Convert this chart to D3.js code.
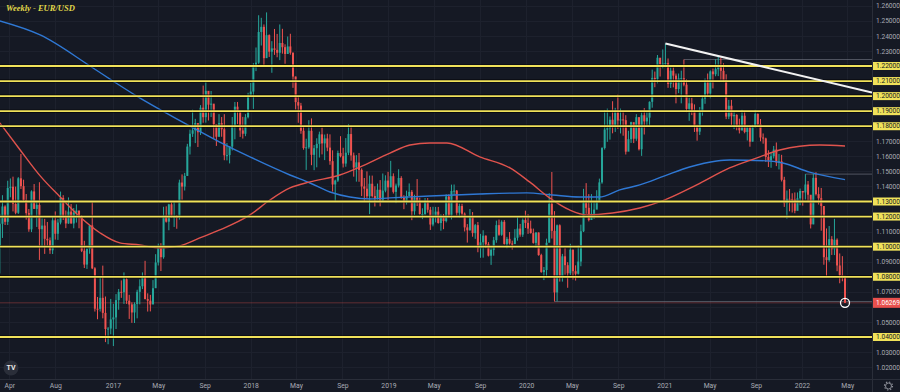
<!DOCTYPE html>
<html><head><meta charset="utf-8">
<script src="https://cdn.jsdelivr.net/npm/d3@7"></script>
<style>html,body{margin:0;padding:0;background:#151924;overflow:hidden}</style>
</head><body><svg id="c" width="900" height="392"></svg>
<script>
const chartTitle = "Weekly - EUR/USD";
const firstOpen = 1.0935;
const lastPrice = 1.06269;

// weekly candles: [high, low, close]; open = previous close
const start2016 = "2016-02-29";
const hlc2016 = [[1.1018,1.0825,1.1004],[1.1218,1.0822,1.1152],[1.1342,1.1058,1.1267],[1.1275,1.1144,1.1165],[1.1438,1.1144,1.1390],[1.1453,1.1328,1.1398],[1.1465,1.1234,1.1284],[1.1399,1.1215,1.1225],[1.1462,1.1217,1.1454],[1.1616,1.1383,1.1402],[1.1445,1.1300,1.1310],[1.1350,1.1180,1.1223],[1.1250,1.1099,1.1115],[1.1374,1.1097,1.1367],[1.1416,1.1250,1.1251],[1.1300,1.1131,1.1277],[1.1428,1.0912,1.1116],[1.1188,1.0999,1.1140],[1.1185,1.0952,1.1052],[1.1164,1.1007,1.1042],[1.1061,1.0952,1.0976],[1.1198,1.0951,1.1175],[1.1234,1.1047,1.1086],[1.1185,1.1045,1.1160],[1.1366,1.1148,1.1324],[1.1342,1.1177,1.1199],[1.1240,1.1123,1.1154],[1.1327,1.1152,1.1233],[1.1283,1.1153,1.1154],[1.1257,1.1122,1.1226],[1.1281,1.1160,1.1240],[1.1238,1.1122,1.1201],[1.1209,1.0964,1.0973],[1.1039,1.0858,1.0881],[1.0990,1.0852,1.0985],[1.1142,1.0953,1.1141],[1.1300,1.0851,1.0856],[1.0864,1.0569,1.0588],[1.0666,1.0518,1.0587],[1.0797,1.0569,1.0660],[1.0874,1.0524,1.0560],[1.0669,1.0366,1.0453],[1.0466,1.0352,1.0456],[1.0653,1.0418,1.0517]];
const start2017 = "2017-01-02";
const hlc2017 = [[1.0620,1.0340,1.0530],[1.0685,1.0453,1.0645],[1.0719,1.0581,1.0700],[1.0776,1.0660,1.0697],[1.0829,1.0620,1.0784],[1.0790,1.0620,1.0641],[1.0680,1.0520,1.0616],[1.0630,1.0494,1.0563],[1.0630,1.0493,1.0619],[1.0714,1.0524,1.0700],[1.0783,1.0617,1.0737],[1.0829,1.0718,1.0798],[1.0906,1.0650,1.0652],[1.0690,1.0569,1.0641],[1.0680,1.0570,1.0616],[1.0778,1.0656,1.0724],[1.0950,1.0820,1.0895],[1.1020,1.0875,1.0998],[1.1023,1.0838,1.0930],[1.1265,1.0920,1.1208],[1.1268,1.1160,1.1166],[1.1285,1.1109,1.1281],[1.1296,1.1193,1.1196],[1.1296,1.1131,1.1197],[1.1210,1.1119,1.1196],[1.1445,1.1180,1.1426],[1.1480,1.1312,1.1399],[1.1490,1.1373,1.1470],[1.1683,1.1470,1.1665],[1.1777,1.1612,1.1750],[1.1910,1.1729,1.1773],[1.1849,1.1688,1.1821],[1.1790,1.1662,1.1760],[1.1940,1.1742,1.1923],[1.2070,1.1823,1.1860],[1.2092,1.1824,1.2035],[1.2030,1.1838,1.1943],[1.2034,1.1861,1.1950],[1.1940,1.1717,1.1813],[1.1788,1.1669,1.1730],[1.1880,1.1730,1.1821],[1.1861,1.1730,1.1780],[1.1880,1.1574,1.1607],[1.1688,1.1573,1.1608],[1.1668,1.1553,1.1665],[1.1861,1.1639,1.1795],[1.1961,1.1713,1.1930],[1.1961,1.1814,1.1895],[1.1880,1.1729,1.1772],[1.1862,1.1718,1.1750],[1.1880,1.1734,1.1860],[1.2022,1.1852,1.2005]];
const start2018 = "2018-01-01";
const hlc2018 = [[1.2088,1.1998,1.2030],[1.2219,1.1915,1.2200],[1.2323,1.2166,1.2222],[1.2537,1.2214,1.2426],[1.2520,1.2336,1.2460],[1.2476,1.2206,1.2252],[1.2556,1.2277,1.2405],[1.2410,1.2260,1.2295],[1.2365,1.2155,1.2317],[1.2446,1.2274,1.2307],[1.2413,1.2258,1.2288],[1.2476,1.2239,1.2353],[1.2447,1.2282,1.2325],[1.2344,1.2215,1.2280],[1.2396,1.2280,1.2330],[1.2414,1.2275,1.2288],[1.2290,1.2055,1.2130],[1.2130,1.1911,1.1960],[1.1996,1.1823,1.1937],[1.1955,1.1750,1.1770],[1.1800,1.1644,1.1655],[1.1717,1.1510,1.1660],[1.1840,1.1650,1.1770],[1.1852,1.1541,1.1610],[1.1675,1.1508,1.1654],[1.1720,1.1527,1.1683],[1.1764,1.1592,1.1746],[1.1791,1.1613,1.1686],[1.1745,1.1575,1.1719],[1.1750,1.1634,1.1658],[1.1746,1.1544,1.1568],[1.1640,1.1366,1.1413],[1.1445,1.1301,1.1439],[1.1638,1.1430,1.1622],[1.1734,1.1593,1.1601],[1.1657,1.1526,1.1552],[1.1721,1.1531,1.1624],[1.1815,1.1608,1.1748],[1.1803,1.1571,1.1606],[1.1625,1.1465,1.1525],[1.1608,1.1432,1.1560],[1.1622,1.1431,1.1510],[1.1520,1.1336,1.1400],[1.1456,1.1302,1.1385],[1.1500,1.1315,1.1335],[1.1472,1.1216,1.1418],[1.1472,1.1327,1.1336],[1.1401,1.1267,1.1317],[1.1419,1.1312,1.1378],[1.1442,1.1268,1.1306],[1.1486,1.1302,1.1372],[1.1474,1.1361,1.1439],[1.1497,1.1309,1.1394]];
const start2019 = "2019-01-07";
const hlc2019 = [[1.1570,1.1395,1.1468],[1.1487,1.1353,1.1364],[1.1419,1.1289,1.1406],[1.1514,1.1393,1.1456],[1.1468,1.1318,1.1325],[1.1342,1.1249,1.1296],[1.1372,1.1280,1.1336],[1.1420,1.1350,1.1364],[1.1376,1.1176,1.1235],[1.1345,1.1211,1.1325],[1.1449,1.1270,1.1300],[1.1325,1.1212,1.1217],[1.1255,1.1183,1.1217],[1.1323,1.1210,1.1296],[1.1323,1.1226,1.1245],[1.1264,1.1111,1.1147],[1.1265,1.1135,1.1201],[1.1264,1.1161,1.1233],[1.1264,1.1153,1.1157],[1.1215,1.1106,1.1205],[1.1217,1.1116,1.1170],[1.1348,1.1161,1.1333],[1.1348,1.1202,1.1209],[1.1412,1.1181,1.1370],[1.1413,1.1344,1.1372],[1.1376,1.1206,1.1225],[1.1286,1.1193,1.1270],[1.1285,1.1200,1.1219],[1.1227,1.1101,1.1128],[1.1150,1.1027,1.1109],[1.1250,1.1106,1.1198],[1.1230,1.1066,1.1090],[1.1151,1.1052,1.1143],[1.1164,1.0963,1.0989],[1.1085,1.0926,1.1029],[1.1109,1.0927,1.1073],[1.1075,1.0990,1.1016],[1.1030,1.0935,1.0940],[1.1000,1.0879,1.0979],[1.1065,1.0940,1.1043],[1.1173,1.1026,1.1143],[1.1180,1.1072,1.1079],[1.1175,1.1072,1.1165],[1.1177,1.1014,1.1018],[1.1065,1.0989,1.1052],[1.1097,1.1014,1.1021],[1.1040,1.0981,1.1017],[1.1116,1.1020,1.1059],[1.1200,1.1040,1.1120],[1.1151,1.1066,1.1080],[1.1188,1.1065,1.1177],[1.1239,1.1124,1.1158]];
const start2020 = "2020-01-06";
const hlc2020 = [[1.1216,1.1085,1.1120],[1.1173,1.1087,1.1090],[1.1120,1.1020,1.1025],[1.1096,1.0992,1.1094],[1.1095,1.0940,1.0944],[1.0953,1.0827,1.0831],[1.0865,1.0778,1.0845],[1.1053,1.0803,1.1026],[1.1356,1.1052,1.1285],[1.1496,1.1054,1.1105],[1.1236,1.0636,1.0696],[1.1147,1.0636,1.1142],[1.1148,1.0768,1.0800],[1.0952,1.0768,1.0936],[1.0990,1.0814,1.0877],[1.0897,1.0727,1.0823],[1.1019,1.0812,1.0980],[1.0980,1.0782,1.0837],[1.0876,1.0775,1.0820],[1.1008,1.0815,1.0901],[1.1146,1.0870,1.1102],[1.1384,1.1097,1.1293],[1.1422,1.1218,1.1258],[1.1349,1.1168,1.1177],[1.1349,1.1186,1.1219],[1.1303,1.1185,1.1246],[1.1375,1.1256,1.1299],[1.1452,1.1303,1.1427],[1.1661,1.1418,1.1655],[1.1908,1.1645,1.1778],[1.1917,1.1696,1.1786],[1.1865,1.1711,1.1843],[1.1966,1.1753,1.1796],[1.1922,1.1762,1.1903],[1.2011,1.1782,1.1838],[1.1917,1.1752,1.1845],[1.1901,1.1737,1.1840],[1.1873,1.1612,1.1631],[1.1770,1.1641,1.1714],[1.1830,1.1689,1.1827],[1.1796,1.1688,1.1717],[1.1880,1.1703,1.1860],[1.1861,1.1639,1.1647],[1.1891,1.1603,1.1873],[1.1920,1.1745,1.1832],[1.1894,1.1800,1.1857],[1.1965,1.1803,1.1962],[1.2176,1.1923,1.2121],[1.2163,1.2059,1.2112],[1.2273,1.2085,1.2255],[1.2250,1.2130,1.2213],[1.2310,1.2185,1.2216]];
const start2021 = "2021-01-04";
const hlc2021 = [[1.2349,1.2192,1.2219],[1.2250,1.2055,1.2081],[1.2190,1.2054,1.2169],[1.2190,1.2058,1.2136],[1.2150,1.1952,1.2047],[1.2150,1.2020,1.2118],[1.2169,1.1952,1.2119],[1.2243,1.2065,1.2076],[1.2113,1.1893,1.1915],[1.1990,1.1836,1.1952],[1.1989,1.1874,1.1905],[1.1945,1.1762,1.1795],[1.1810,1.1704,1.1764],[1.1927,1.1742,1.1899],[1.1995,1.1870,1.1983],[1.2117,1.1949,1.2097],[1.2150,1.2000,1.2017],[1.2171,1.1986,1.2164],[1.2183,1.2051,1.2145],[1.2245,1.2132,1.2179],[1.2266,1.2133,1.2192],[1.2254,1.2104,1.2168],[1.2218,1.2093,1.2104],[1.2145,1.1847,1.1864],[1.1975,1.1847,1.1936],[1.1975,1.1807,1.1866],[1.1895,1.1781,1.1875],[1.1880,1.1773,1.1806],[1.1850,1.1752,1.1773],[1.1909,1.1770,1.1870],[1.1900,1.1753,1.1762],[1.1805,1.1705,1.1794],[1.1806,1.1664,1.1697],[1.1809,1.1700,1.1794],[1.1909,1.1790,1.1882],[1.1885,1.1804,1.1813],[1.1848,1.1700,1.1725],[1.1752,1.1684,1.1719],[1.1724,1.1563,1.1596],[1.1640,1.1529,1.1574],[1.1624,1.1524,1.1601],[1.1669,1.1586,1.1645],[1.1692,1.1535,1.1559],[1.1616,1.1513,1.1567],[1.1610,1.1433,1.1444],[1.1464,1.1264,1.1288],[1.1373,1.1186,1.1318],[1.1383,1.1235,1.1316],[1.1355,1.1227,1.1314],[1.1360,1.1222,1.1238],[1.1360,1.1255,1.1321],[1.1386,1.1275,1.1370]];
const start2022 = "2022-01-03";
const hlc2022 = [[1.1369,1.1272,1.1360],[1.1482,1.1313,1.1413],[1.1436,1.1300,1.1345],[1.1340,1.1121,1.1148],[1.1483,1.1149,1.1457],[1.1495,1.1340,1.1349],[1.1395,1.1280,1.1322],[1.1390,1.1106,1.1270],[1.1238,1.0880,1.0930],[1.1121,1.0806,1.0911],[1.1137,1.0900,1.1050],[1.1070,1.0945,1.0983],[1.1185,1.0944,1.1046],[1.1055,1.0837,1.0875],[1.0955,1.0757,1.0810],[1.0937,1.0770,1.0795],[1.0808,1.0627,1.06269]];

// moving averages
const blueDates = ["2016-03-07","2016-06-22","2016-11-01","2017-01-01","2017-03-05","2017-05-13","2017-07-24","2017-09-15","2017-10-11","2017-12-30","2018-04-15","2018-06-07","2018-07-30","2018-09-21","2018-11-13","2019-01-05","2019-04-21","2019-08-31","2020-01-02","2020-03-11","2020-05-22","2020-07-13","2020-09-05","2020-10-28","2021-01-02","2021-03-09","2021-05-20","2021-06-23","2021-10-07","2021-11-11","2022-01-21","2022-04-25"];
const blueVals = [1.2499,1.2406,1.2200,1.2100,1.2000,1.1900,1.1800,1.1729,1.1695,1.1596,1.1476,1.1423,1.1363,1.1330,1.1317,1.1324,1.1337,1.1350,1.1357,1.1343,1.1330,1.1330,1.1377,1.1410,1.1470,1.1529,1.1569,1.1576,1.1569,1.1556,1.1495,1.1445];
const redDates = ["2016-03-07","2016-04-30","2016-06-22","2016-08-14","2016-10-06","2016-11-28","2017-01-19","2017-03-13","2017-05-05","2017-06-27","2017-08-19","2017-10-11","2017-12-30","2018-02-21","2018-04-15","2018-06-07","2018-08-25","2018-10-17","2019-01-05","2019-02-27","2019-04-21","2019-06-05","2019-08-31","2019-11-19","2020-01-10","2020-03-03","2020-04-25","2020-06-09","2020-08-17","2020-10-28","2020-12-20","2021-03-28","2021-06-23","2021-09-11","2021-11-03","2022-02-17","2022-04-25"];
const redVals = [1.1822,1.1642,1.1470,1.1330,1.1197,1.1091,1.1025,1.1011,1.0991,1.1005,1.1058,1.1111,1.1211,1.1310,1.1390,1.1430,1.1476,1.1529,1.1622,1.1675,1.1689,1.1689,1.1596,1.1523,1.1430,1.1324,1.1244,1.1211,1.1224,1.1257,1.1297,1.1410,1.1523,1.1596,1.1642,1.1675,1.1669];

const levels = [1.22,1.21,1.20,1.19,1.18,1.13,1.12,1.10,1.08,1.04];
const priceTicks = [1.26,1.25,1.24,1.23,1.22,1.21,1.20,1.19,1.18,1.17,1.16,1.15,1.14,1.13,1.12,1.11,1.10,1.09,1.08,1.07,1.06,1.05,1.04,1.03,1.02];
const trendDates = ["2021-01-04","2021-05-24"];
const trendVals = [1.2349,1.2266];
const rayDates = ["2021-02-22","2022-01-10","2020-03-16"];
const rayVals = [1.2243,1.1482,1.0636];
const timeTickDates = ["2016-04-01","2016-08-01","2017-01-01","2017-05-01","2017-09-01","2018-01-01","2018-05-01","2018-09-01","2019-01-01","2019-05-01","2019-09-01","2020-01-01","2020-05-01","2020-09-01","2021-01-01","2021-05-01","2021-09-01","2022-01-01","2022-05-01"];
const timeTickLabels = ["Apr","Aug","2017","May","Sep","2018","May","Sep","2019","May","Sep","2020","May","Sep","2021","May","Sep","2022","May"];

const W = 900, H = 392, PR = 872, PB = 379;
const BG = "#151924", GRID = "#1d212d", TXT = "#a9acb5";
const UP = "#26a69a", DOWN = "#ef5350";
const parse = d3.utcParse("%Y-%m-%d");

const x = d3.scaleUtc().domain([parse("2017-01-01"), parse("2022-01-01")]).range([113, 802]);
const y = d3.scaleLinear().domain([1.04, 1.22]).range([337, 66]);

const candles = [];
let prev = firstOpen;
[[start2016,hlc2016],[start2017,hlc2017],[start2018,hlc2018],[start2019,hlc2019],[start2020,hlc2020],[start2021,hlc2021],[start2022,hlc2022]].forEach(([s, rows]) => {
  const d0 = parse(s);
  rows.forEach((r, i) => {
    candles.push({date: d3.utcDay.offset(d0, 7 * i), open: prev, high: r[0], low: r[1], close: r[2]});
    prev = r[2];
  });
});

const svg = d3.select("#c");
svg.append("rect").attr("width", W).attr("height", H).attr("fill", BG);
svg.append("defs").append("clipPath").attr("id", "pc").append("rect").attr("x", 0).attr("y", 0).attr("width", PR).attr("height", PB);

// grid
const grid = svg.append("g").attr("clip-path", "url(#pc)");
grid.selectAll("line.h").data(priceTicks).join("line")
  .attr("x1", 0).attr("x2", PR).attr("y1", d => Math.round(y(d)) + 0.5).attr("y2", d => Math.round(y(d)) + 0.5)
  .attr("stroke", GRID).attr("stroke-width", 1);
grid.selectAll("line.v").data(timeTickDates).join("line")
  .attr("y1", 0).attr("y2", PB).attr("x1", d => Math.round(x(parse(d))) + 0.5).attr("x2", d => Math.round(x(parse(d))) + 0.5)
  .attr("stroke", GRID).attr("stroke-width", 1);

const plot = svg.append("g").attr("clip-path", "url(#pc)");

// current price line
plot.append("line").attr("x1", 0).attr("x2", PR).attr("y1", y(lastPrice)).attr("y2", y(lastPrice))
  .attr("stroke", "#ef5350").attr("stroke-opacity", 0.35).attr("stroke-width", 1);

// grey rays
rayDates.forEach((d, i) => {
  plot.append("line").attr("x1", x(parse(d))).attr("x2", PR).attr("y1", y(rayVals[i])).attr("y2", y(rayVals[i]))
    .attr("stroke", "#6b6f7a").attr("stroke-opacity", 0.7).attr("stroke-width", 1);
});

// candles
const cg = plot.append("g");
cg.selectAll("line").data(candles).join("line")
  .attr("x1", d => x(d.date)).attr("x2", d => x(d.date))
  .attr("y1", d => y(d.high)).attr("y2", d => y(d.low))
  .attr("stroke", d => d.close >= d.open ? UP : DOWN).attr("stroke-width", 1);
cg.selectAll("rect").data(candles).join("rect")
  .attr("x", d => x(d.date) - 1).attr("width", 2)
  .attr("y", d => y(Math.max(d.open, d.close)))
  .attr("height", d => Math.max(1, Math.abs(y(d.open) - y(d.close))))
  .attr("fill", d => d.close >= d.open ? UP : DOWN);

// moving averages
const maLine = d3.line().x(d => x(d[0])).y(d => y(d[1])).curve(d3.curveMonotoneX);
plot.append("path").datum(blueDates.map((d, i) => [parse(d), blueVals[i]]))
  .attr("d", maLine).attr("fill", "none").attr("stroke", "#2f78d4").attr("stroke-width", 1.4);
plot.append("path").datum(redDates.map((d, i) => [parse(d), redVals[i]]))
  .attr("d", maLine).attr("fill", "none").attr("stroke", "#e0534d").attr("stroke-width", 1.4);

// yellow levels
levels.forEach(l => {
  plot.append("line").attr("x1", 0).attr("x2", PR).attr("y1", y(l)).attr("y2", y(l))
    .attr("stroke", "#000").attr("stroke-opacity", 0.55).attr("stroke-width", 3.5);
  plot.append("line").attr("x1", 0).attr("x2", PR).attr("y1", y(l)).attr("y2", y(l))
    .attr("stroke", "#f0e25a").attr("stroke-width", 1.8);
});

// trendline through the two 2021 highs, extended right
{
  const x1 = x(parse(trendDates[0])), y1 = y(trendVals[0]);
  const x2 = x(parse(trendDates[1])), y2 = y(trendVals[1]);
  const k = (y2 - y1) / (x2 - x1);
  plot.append("line").attr("x1", x1).attr("y1", y1).attr("x2", PR).attr("y2", y1 + k * (PR - x1))
    .attr("stroke", "#f2f2f2").attr("stroke-width", 2);
}

// last price marker
const lastC = candles[candles.length - 1];
plot.append("circle").attr("cx", x(lastC.date)).attr("cy", y(lastPrice)).attr("r", 4.5)
  .attr("fill", "none").attr("stroke", "#ffffff").attr("stroke-width", 1.3);

// separators
svg.append("line").attr("x1", PR + 0.5).attr("x2", PR + 0.5).attr("y1", 0).attr("y2", H).attr("stroke", "#2a2e39");
svg.append("line").attr("x1", 0).attr("x2", W).attr("y1", PB + 0.5).attr("y2", PB + 0.5).attr("stroke", "#2a2e39");

// price axis (labels hidden behind the current-price box are skipped)
const fmt = d3.format(".5f");
const axisTicks = priceTicks.filter(p => Math.abs(y(p) - y(lastPrice)) > 8);
const yAxis = d3.axisRight(y).tickValues(axisTicks).tickFormat(fmt).tickSize(0).tickPadding(4);
const ya = svg.append("g").attr("transform", `translate(${PR},0)`).call(yAxis);
ya.select(".domain").remove();
ya.selectAll("text").attr("fill", TXT).style("font-family", "Roboto, sans-serif").style("font-size", "6.6px");

// yellow label boxes
levels.forEach(l => {
  const g = svg.append("g");
  g.append("rect").attr("x", PR + 1).attr("y", y(l) - 4).attr("width", W - PR - 1).attr("height", 8).attr("fill", "#f0e25a");
  g.append("text").attr("x", PR + 4).attr("y", y(l)).attr("dy", "0.32em").text(fmt(l))
    .attr("fill", "#131722").style("font-family", "Roboto, sans-serif").style("font-size", "6.6px");
});
// current price box
svg.append("rect").attr("x", PR + 1).attr("y", y(lastPrice) - 5).attr("width", W - PR - 1).attr("height", 10).attr("fill", "#e8504d");
svg.append("text").attr("x", PR + 4).attr("y", y(lastPrice)).attr("dy", "0.32em").text(fmt(lastPrice))
  .attr("fill", "#ffffff").style("font-family", "Roboto, sans-serif").style("font-size", "6.6px");

// time axis
const xAxis = d3.axisBottom(x).tickValues(timeTickDates.map(parse)).tickFormat((d, i) => timeTickLabels[i]).tickSize(0).tickPadding(4);
const xa = svg.append("g").attr("transform", `translate(0,${PB})`).call(xAxis);
xa.select(".domain").remove();
xa.selectAll("text").attr("fill", TXT).style("font-family", "Roboto, sans-serif").style("font-size", "6.8px");

// title
svg.append("text").attr("x", 6).attr("y", 11).text(chartTitle)
  .attr("fill", "#e0d84a").style("font-family", "'Liberation Serif', serif").style("font-style", "italic").style("font-weight", "bold").style("font-size", "8.5px");

// logo and gear
svg.append("circle").attr("cx", 11).attr("cy", 368).attr("r", 7.5).attr("fill", "#2a2e39");
svg.append("text").attr("x", 11).attr("y", 368).attr("dy", "0.35em").attr("text-anchor", "middle").text("TV")
  .attr("fill", "#e8e8e8").style("font-family", "Roboto, sans-serif").style("font-weight", "bold").style("font-size", "7px");
svg.append("circle").attr("cx", 888.5).attr("cy", 386).attr("r", 3).attr("fill", "none").attr("stroke", "#8a8d96").attr("stroke-width", 1);
svg.append("circle").attr("cx", 888.5).attr("cy", 386).attr("r", 4).attr("fill", "none").attr("stroke", "#8a8d96").attr("stroke-width", 1.2).attr("stroke-dasharray", "1.4 1.74");
</script></body></html>
